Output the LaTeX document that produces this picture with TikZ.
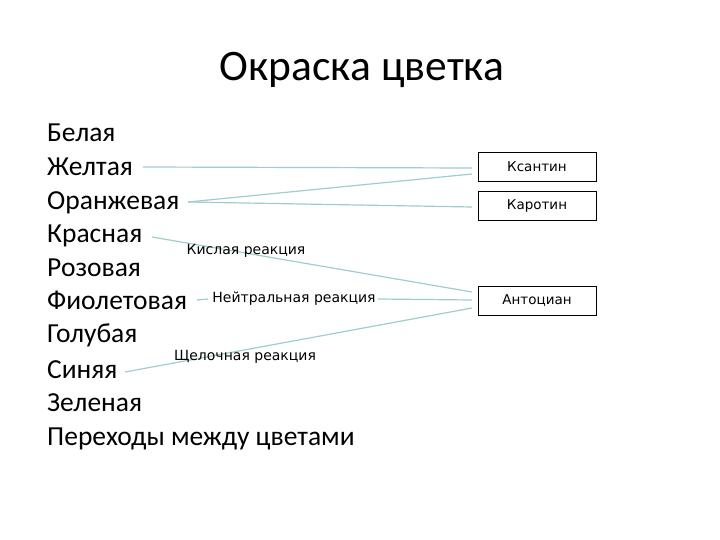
\documentclass[tikz,border=0pt]{standalone}
\usepackage{fontspec}
\setmainfont{Carlito}
\newfontfamily\labfont{DejaVu Sans}
\begin{document}
\begin{tikzpicture}[x=1pt,y=-1pt,
  item/.style={anchor=base west,inner sep=0pt,font=\fontsize{27.5}{27.5}\selectfont},
  box/.style={draw,line width=0.8pt,minimum width=118pt,minimum height=29pt,inner sep=0pt,font=\labfont\fontsize{13.5}{13.5}\selectfont},
  lab/.style={inner sep=0pt,font=\labfont\fontsize{14}{14}\selectfont},
  con/.style={draw={rgb,255:red,160;green,205;blue,205},line width=1.2pt}]
\useasboundingbox (0,0) rectangle (720,540);
\coordinate (c2) at (143,167);
\coordinate (c3) at (188,202);
\coordinate (c4) at (152,237);
\coordinate (c6) at (197,300);
\coordinate (c8) at (125,372);
\coordinate (k1) at (472,168);
\coordinate (k2) at (472,174);
\coordinate (k3) at (472,207);
\coordinate (a1) at (472,292);
\coordinate (a2) at (472,300);
\coordinate (a3) at (472,308);
\draw[con] (c2) -- (k1);
\draw[con] (c3) -- (k2);
\draw[con] (c3) -- (k3);
\draw[con] (c4) -- (a1);
\draw[con] (c8) -- (a3);
\node[font=\fontsize{43.5}{43.5}\selectfont,inner sep=0pt] (title) at (362,70) {Окраска цветка};
\node[item] (t1) at (47,142) {Белая};
\node[item] (t2) at (47,176) {Желтая};
\node[item] (t3) at (47,210) {Оранжевая};
\node[item] (t4) at (47,243) {Красная};
\node[item] (t5) at (47,276) {Розовая};
\node[item] (t6) at (47,309) {Фиолетовая};
\node[item] (t7) at (47,342) {Голубая};
\node[item] (t8) at (47,378) {Синяя};
\node[item] (t9) at (47,411) {Зеленая};
\node[item] (t10) at (47,445) {Переходы между цветами};
\node[box] (ks) at (537,166.5) {Ксантин};
\node[box] (ka) at (537,205.5) {Каротин};
\node[box] (an) at (537,300.5) {Антоциан};
\node[lab] (l1) at (246,251) {Кислая реакция};
\node[lab] (l2) at (294,299) {Нейтральная реакция};
\node[lab] (l3) at (245,357) {Щелочная реакция};
\draw[con] (c6) -- ([xshift=-4pt]l2.west);
\draw[con] ([xshift=2pt]l2.east) -- (a2);
\end{tikzpicture}
\end{document}
